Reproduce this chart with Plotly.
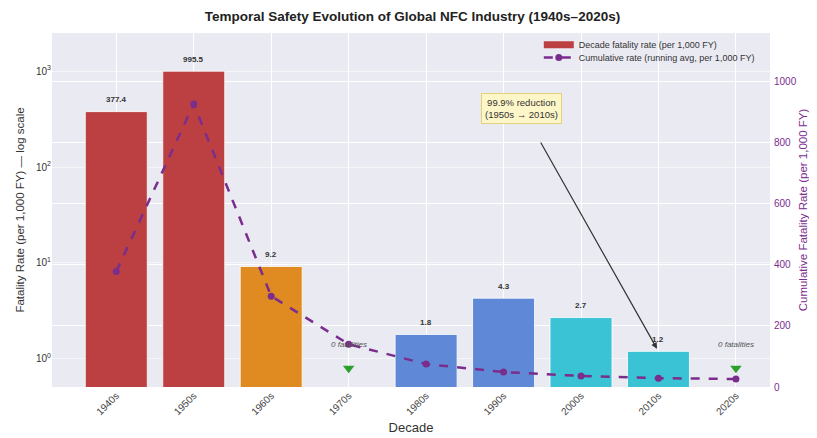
import math
import plotly.graph_objects as go
from plotly.subplots import make_subplots

decades = ["1940s", "1950s", "1960s", "1970s", "1980s", "1990s", "2000s", "2010s", "2020s"]
decade_rate = [377.4, 995.5, 9.2, 0, 1.8, 4.3, 2.7, 1.2, 0]
cumulative_rate = [377.4, 925, 297, 140, 75, 49, 36, 29, 26]
bar_colors = ["#BC4042", "#BC4042", "#E08B22", "#E08B22", "#5F89D6", "#5F89D6", "#3AC3D5", "#3AC3D5", "#3AC3D5"]
zero_marker_value = 0.8
zero_label_value = 1.4

PURPLE = "#7B2D8E"
FONT = "Liberation Sans, Arial, sans-serif"

fig = make_subplots(specs=[[{"secondary_y": True}]])

bar_x = [d for d, v in zip(decades, decade_rate) if v > 0]
bar_y = [v for v in decade_rate if v > 0]
bar_c = [c for c, v in zip(bar_colors, decade_rate) if v > 0]

fig.add_trace(go.Bar(
    x=bar_x, y=bar_y, marker=dict(color=bar_c, line=dict(color="white", width=0.8)),
    width=0.8, name="Decade fatality rate (per 1,000 FY)", showlegend=False,
), secondary_y=False)

# legend-only entry with a wide rectangular swatch
fig.add_trace(go.Scatter(
    x=[None], y=[None], mode="lines", line=dict(color="#BC4042", width=7),
    name="Decade fatality rate (per 1,000 FY)", legend="legend",
), secondary_y=False)

fig.add_trace(go.Scatter(
    x=decades, y=cumulative_rate, mode="lines+markers",
    line=dict(color=PURPLE, width=2.5, dash="dash"),
    marker=dict(color=PURPLE, size=7),
    name="Cumulative rate (running avg, per 1,000 FY)", legend="legend2",
), secondary_y=True)

zero_x = [d for d, v in zip(decades, decade_rate) if v == 0]
fig.add_trace(go.Scatter(
    x=zero_x, y=[zero_marker_value] * len(zero_x), mode="markers",
    marker=dict(symbol="triangle-down", color="#2CA02C", size=10),
    showlegend=False,
), secondary_y=False)

annotations = []
for d, v in zip(decades, decade_rate):
    if v > 0:
        annotations.append(dict(
            x=d, y=math.log10(v), xref="x", yref="y", text=f"<b>{v:.1f}</b>",
            showarrow=False, yshift=12, font=dict(size=8, color="#333333", family=FONT),
        ))
    else:
        annotations.append(dict(
            x=d, y=math.log10(zero_label_value), xref="x", yref="y", text="<i>0 fatalities</i>",
            showarrow=False, font=dict(size=8, color="#555555", family=FONT),
        ))

annotations.append(dict(
    x="2010s", y=math.log10(decade_rate[7]), xref="x", yref="y",
    text="99.9% reduction<br>(1950s \u2192 2010s)",
    showarrow=True, ax=-137, ay=-243, arrowhead=2, arrowsize=1, arrowwidth=1.2,
    arrowcolor="#333333", startstandoff=22, standoff=3,
    bgcolor="#FDF6C8", bordercolor="#E3D27A", borderwidth=1, borderpad=3,
    font=dict(size=9.5, color="#333333", family=FONT),
))

# page body adds ~8px offset; figure sized to fit window
W, H = 809, 430
legend_common = dict(xanchor="left", x=0.678, yanchor="top", bgcolor="rgba(0,0,0,0)",
                     font=dict(size=9, color="#333333"), itemwidth=30)
fig.update_layout(
    width=W, height=H,
    margin=dict(l=44, r=47, t=25, b=51, autoexpand=False),
    paper_bgcolor="white", plot_bgcolor="#EAEAF2",
    font=dict(family=FONT, color="#333333"),
    title=dict(text="<b>Temporal Safety Evolution of Global NFC Industry (1940s\u20132020s)</b>",
               x=0.5, xanchor="center", y=1 - 8 / H, yanchor="middle", automargin=False,
               font=dict(size=13.5, color="#222222", family=FONT)),
    legend=dict(y=1.008, **legend_common),
    legend2=dict(y=0.972, **legend_common),
    annotations=annotations,
    bargap=0.2,
)

fig.update_xaxes(
    type="category", categoryorder="array", categoryarray=decades, domain=[0, 1],
    range=[-0.83, 8.44], showgrid=True, gridcolor="white", gridwidth=1,
    tickangle=-45, tickfont=dict(size=10, color="#444444"),
    title=dict(text="Decade", font=dict(size=13, color="#333333"), standoff=6),
    zeroline=False, showline=False, ticks="", automargin=False,
)
fig.update_yaxes(
    type="log", range=[-0.292, 3.396], showgrid=True, gridcolor="rgba(255,255,255,0.55)",
    tickvals=[1, 10, 100, 1000], ticktext=["10<sup>0</sup>", "10<sup>1</sup>", "10<sup>2</sup>", "10<sup>3</sup>"],
    tickfont=dict(size=10, color="#333333"),
    title=dict(text="Fatality Rate (per 1,000 FY) \u2014 log scale", font=dict(size=11.5, color="#333333"), standoff=8),
    zeroline=False, showline=False, ticks="", automargin=False,
    secondary_y=False,
)
fig.update_yaxes(
    range=[0, 1157], tickvals=[0, 200, 400, 600, 800, 1000],
    showgrid=True, gridcolor="white", gridwidth=1,
    tickfont=dict(size=10, color=PURPLE), ticklabelstandoff=3,
    title=dict(text="Cumulative Fatality Rate (per 1,000 FY)", font=dict(size=11.5, color=PURPLE), standoff=3),
    zeroline=False, showline=False, ticks="", automargin=False,
    secondary_y=True,
)

fig.write_html("out.html")
